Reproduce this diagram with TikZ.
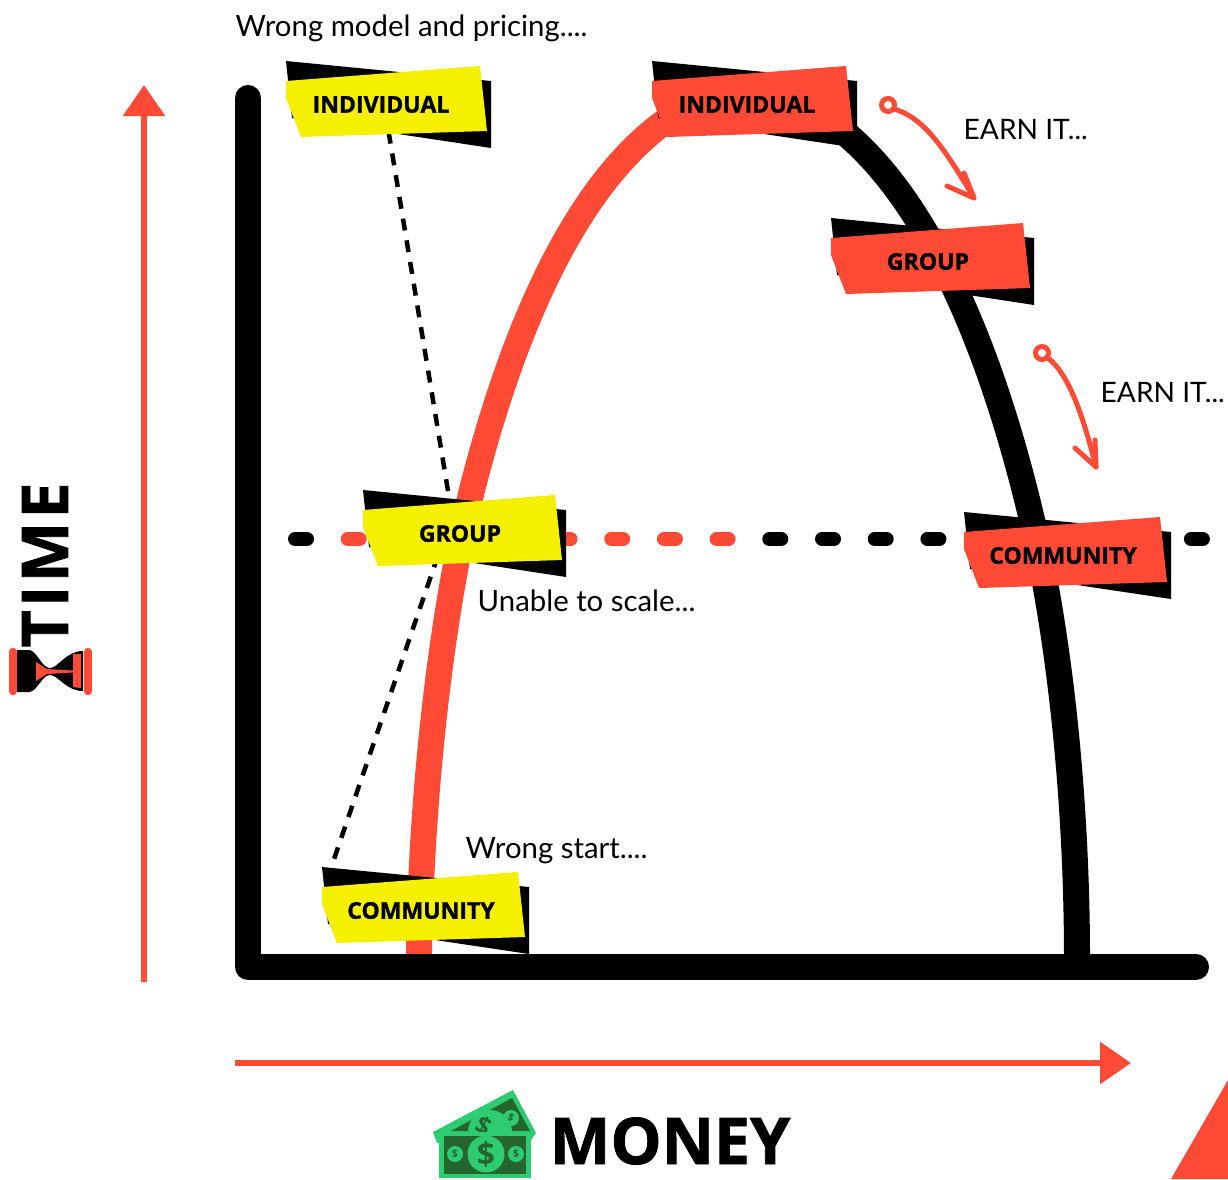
\documentclass[tikz,border=0pt]{standalone}
\usepackage{fontspec}
\setmainfont{Open Sans}
\newfontfamily\handfont{Lato}
\newfontfamily\heavyfont{Open Sans}[BoldFeatures={FakeBold=1.3}]
\usetikzlibrary{arrows.meta}
\definecolor{tagred}{HTML}{FF4A36}
\definecolor{tagyellow}{HTML}{F5EF00}
\definecolor{billlight}{HTML}{2ECC71}
\definecolor{billdark}{HTML}{25662F}
\tikzset{
  hand/.style={font=\handfont\fontsize{8.35}{10}\selectfont, text=black, anchor=west, inner sep=0pt},
  earn/.style={font=\handfont\fontsize{8}{10}\selectfont, text=black, anchor=west, inner sep=0pt},
  taglabel/.style={font=\heavyfont\fontsize{6.55}{8}\selectfont\bfseries, text=black},
  bigword/.style={font=\heavyfont\fontsize{18.3}{20}\selectfont\bfseries, text=black},
  billsign/.style={font=\bfseries, text=billdark},
  curveline/.style={line width=0.26cm},
  scribble/.style={tagred, line width=0.05cm, line cap=round, line join=round},
  redaxis/.style={tagred, line width=0.06cm, -{Triangle[width=0.41cm, length=0.31cm]}},
  droplink/.style={black, line width=0.045cm, dash pattern=on 0.12cm off 0.1cm},
  glassbar/.style={tagred, line width=0.085cm, line cap=round}
}
\begin{document}
\begin{tikzpicture}[x=0.01cm, y=-0.01cm]
    \useasboundingbox (0,0) rectangle (1228,1179);
    % --- Curvas ---
    \draw[curveline, tagred] (419,955) .. controls (421,800) and (440,620) .. (472,490)
      .. controls (505,360) and (565,190) .. (670,118);
    \draw[curveline, black] (835,125) .. controls (915,185) and (985,320) .. (1032,520)
      .. controls (1060,640) and (1077,800) .. (1077,960);
    % --- Eixos ---
    \draw[black, line width=0.26cm, line cap=round, line join=round]
      (248,98) -- (248,967) -- (1196,967);
    % --- Linha pontilhada ---
    \foreach \i/\c in {0/black, 1/tagred, 2/tagred, 3/tagred, 4/tagred, 5/tagred, 6/tagred, 7/tagred, 8/tagred,
                       9/black, 10/black, 11/black, 12/black, 13/black, 14/black, 15/black, 16/black, 17/black} {
      \draw[\c, line width=0.14cm, line cap=round] ({295+\i*52.7},539) -- ({307+\i*52.7},539);
    }
    % --- Ligacoes tracejadas ---
    \coordinate (indlow) at (385,110);
    \coordinate (grpup) at (452,515);
    \coordinate (grpdown) at (445,535);
    \coordinate (comup) at (333,862);
    \draw[droplink] (indlow) -- (grpup);
    \draw[droplink] (grpdown) -- (comup);
    % --- Etiquetas ---
    \foreach \x/\y/\d/\l/\c/\t/\n in {286/61/1/95/tagyellow/INDIVIDUAL/indyel, 363/490/-1/97/tagyellow/GROUP/grpyel,
                                      322/867/3/99/tagyellow/COMMUNITY/comyel, 652/61/1/95/tagred/INDIVIDUAL/indred,
                                      831/218/-1/97/tagred/GROUP/grpred, 964/512/3/99/tagred/COMMUNITY/comred} {
      \fill[black] (\x,\y) -- ({\x+204+\d},{\y+20}) -- ({\x+204+\d},{\y+87}) -- ({\x+6},{\y+57}) -- cycle;
      \fill[\c] (\x,{\y+20}) -- ({\x+193+\d},{\y+5}) -- ({\x+200+\d},{\y+70}) -- ({\x+15},{\y+76}) -- (\x,{\y+37}) -- cycle;
      \node[taglabel] (\n) at ({\x+\l},{\y+43.5}) {\t};
    }
    % --- Textos manuscritos ---
    \node[hand] (wrongmodel) at (235,28) {Wrong model and pricing....};
    \node[hand] (unable) at (477,601) {Unable to scale...};
    \node[hand] (wrongstart) at (465,851) {Wrong start....};
    \node[earn] (earntop) at (963,130) {EARN IT...};
    \node[earn] (earnlow) at (1100,393) {EARN IT...};
    % --- Setas desenhadas ---
    \coordinate (looptop) at (894,109);
    \coordinate (tiptop) at (974,198);
    \draw[scribble] (888,105) circle (6.5);
    \draw[scribble] (looptop) .. controls (925,118) and (945,150) .. (tiptop);
    \draw[scribble] (947,186) -- (tiptop) -- (964,173);
    \coordinate (looplow) at (1048,358);
    \coordinate (tiplow) at (1096,467);
    \draw[scribble] (1042,353) circle (6.5);
    \draw[scribble] (looplow) .. controls (1070,375) and (1084,420) .. (tiplow);
    \draw[scribble] (1075,448) -- (tiplow) -- (1095,440);
    % --- Eixos vermelhos ---
    \coordinate (timefoot) at (144,982);
    \coordinate (timehead) at (144,85);
    \coordinate (moneyfoot) at (235,1063);
    \coordinate (moneyhead) at (1131,1063);
    \draw[redaxis] (timefoot) -- (timehead);
    \draw[redaxis] (moneyfoot) -- (moneyhead);
    \fill[tagred] (1228,1080) -- (1228,1179) -- (1171,1179) -- cycle;
    % --- TIME e ampulheta ---
    \node[bigword, rotate=90] (timeword) at (45,565) {\addfontfeature{LetterSpace=5}TIME};
    \fill[black] (17,650) -- (30,650) .. controls (38,653) and (42,668) .. (50,668)
      .. controls (58,668) and (66,651) .. (83,651) -- (83,691)
      .. controls (66,691) and (58,675) .. (50,675) .. controls (42,675) and (38,690) .. (30,692) -- (17,692) -- cycle;
    \fill[tagred] (36,662) -- (47,669) -- (73,670.5) -- (73,654) -- (81,654) -- (81,688) -- (73,687) -- (73,672.5)
      -- (47,674) -- (36,681) -- cycle;
    \draw[glassbar] (13,652) -- (13,691);
    \draw[glassbar] (88,652) -- (88,691);
    % --- Dinheiro ---
    \fill[billlight] (433,1132) -- (513,1090) -- (536,1133) -- (531,1140) -- (437,1143) -- cycle;
    \fill[billdark] (451,1131) -- (512,1098) -- (530,1131) -- cycle;
    \begin{scope}
      \clip (433,1085) rectangle (536,1132);
      \fill[billlight] (490,1132) circle (22);
      \node[billsign, rotate=-27, font=\bfseries\fontsize{7}{8}\selectfont] (backsign) at (484,1126) {\$};
    \end{scope}
    \fill[billlight] (511,1118) circle (8);
    \node[billsign, rotate=-27, font=\bfseries\fontsize{3}{4}\selectfont] (backsmall) at (511,1118) {\$};
    \fill[billlight] (439,1132) rectangle (531,1178);
    \fill[billdark] (444,1136) rectangle (526,1174);
    \fill[billlight] (486,1154) circle (18.5);
    \fill[billlight] (455,1154) circle (8);
    \fill[billlight] (516,1154) circle (8);
    \node[billsign, font=\bfseries\fontsize{9}{10}\selectfont] (midsign) at (486,1154) {\$};
    \node[billsign, font=\bfseries\fontsize{3}{4}\selectfont] (leftsign) at (455,1154) {\$};
    \node[billsign, font=\bfseries\fontsize{3}{4}\selectfont] (rightsign) at (516,1154) {\$};
    \node[bigword] (moneyword) at (670,1141) {MONEY};
\end{tikzpicture}
\end{document}
